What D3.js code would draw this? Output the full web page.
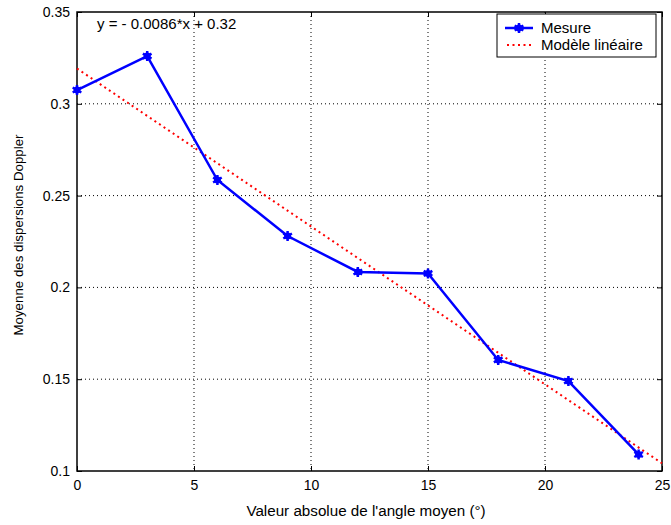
<!DOCTYPE html>
<html><head><meta charset="utf-8">
<script src="https://cdn.jsdelivr.net/npm/d3@7"></script>
<style>body{margin:0;background:#fff;} text{font-family:"Liberation Sans",Arial,sans-serif;}</style>
</head><body>
<svg id="c" width="671" height="525"></svg>
<script>
const angles = [0, 3, 6, 9, 12, 15, 18, 21, 24];
const dispersions = [0.3075, 0.326, 0.2585, 0.228, 0.2084, 0.2076, 0.1605, 0.149, 0.109];
const modelX = [0, 25];
const modelY = [0.3192, 0.1042];
const xTicks = [0, 5, 10, 15, 20, 25];
const yTicks = [0.1, 0.15, 0.2, 0.25, 0.3, 0.35];
const yTickLabels = ["0.1", "0.15", "0.2", "0.25", "0.3", "0.35"];
const seriesNames = ["Mesure", "Modèle linéaire"];
const equation = "y = - 0.0086*x + 0.32";

const svg = d3.select("#c");
const L = 77, R = 662, T = 12, B = 471;
const x = d3.scaleLinear().domain([0, 25]).range([L, R]);
const y = d3.scaleLinear().domain([0.1, 0.35]).range([B, T]);

// grid
const g = svg.append("g");
xTicks.slice(1, -1).forEach(t => g.append("line").attr("x1", x(t)).attr("x2", x(t)).attr("y1", T).attr("y2", B)
  .attr("stroke", "#000").attr("stroke-width", 1).attr("stroke-dasharray", "1,3"));
yTicks.slice(1, -1).forEach(t => g.append("line").attr("x1", L).attr("x2", R).attr("y1", y(t)).attr("y2", y(t))
  .attr("stroke", "#000").attr("stroke-width", 1).attr("stroke-dasharray", "1,3"));

// axes
const xa = svg.append("g").attr("transform", `translate(0,${B})`)
  .call(d3.axisBottom(x).tickValues(xTicks).tickSizeInner(-5).tickSizeOuter(0).tickPadding(9));
const ya = svg.append("g").attr("transform", `translate(${L},0)`)
  .call(d3.axisLeft(y).tickValues(yTicks).tickFormat((d, i) => yTickLabels[i]).tickSizeInner(-5).tickSizeOuter(0).tickPadding(7));
svg.append("g").attr("transform", `translate(0,${T})`)
  .call(d3.axisTop(x).tickValues(xTicks).tickSizeInner(-5).tickSizeOuter(0).tickFormat(""));
svg.append("g").attr("transform", `translate(${R},0)`)
  .call(d3.axisRight(y).tickValues(yTicks).tickSizeInner(-5).tickSizeOuter(0).tickFormat(""));
svg.selectAll(".domain").remove();
svg.selectAll(".tick line").attr("stroke", "#000");
[xa, ya].forEach(a => a.selectAll("text").attr("font-size", 14).attr("fill", "#000")
  .style("font-family", "'Liberation Sans',Arial,sans-serif"));
svg.append("rect").attr("x", L).attr("y", T).attr("width", R - L).attr("height", B - T)
  .attr("fill", "none").attr("stroke", "#000").attr("stroke-width", 1.5);

// model line
const mdata = modelX.map((d, i) => [d, modelY[i]]);
svg.append("path").datum(mdata).attr("d", d3.line().x(d => x(d[0])).y(d => y(d[1])))
  .attr("stroke", "#ff0000").attr("stroke-width", 2).attr("stroke-dasharray", "2,3.5").attr("fill", "none");

// measure line
const data = angles.map((d, i) => [d, dispersions[i]]);
svg.append("path").datum(data).attr("d", d3.line().x(d => x(d[0])).y(d => y(d[1])))
  .attr("stroke", "#0000ff").attr("stroke-width", 2.5).attr("fill", "none");
const star = d3.symbol().type(d3.symbolAsterisk).size(70)();
const star2 = d3.symbol().type(d3.symbolCircle).size(40)();
svg.selectAll(".mk").data(data).enter().append("g").attr("transform", d => `translate(${x(d[0])},${y(d[1])})`)
  .each(function() {
    d3.select(this).append("path").attr("d", star).attr("stroke", "#0000ff").attr("stroke-width", 2.5).attr("fill", "none");
    d3.select(this).append("path").attr("d", star2).attr("fill", "#0000ff");
  });

// equation
svg.append("text").attr("x", 97).attr("y", 29).attr("font-size", 15).text(equation);

// legend
svg.append("rect").attr("x", 497).attr("y", 14).attr("width", 159).attr("height", 43)
  .attr("fill", "#fff").attr("stroke", "#000").attr("stroke-width", 1);
svg.append("line").attr("x1", 505).attr("x2", 533).attr("y1", 28).attr("y2", 28).attr("stroke", "#0000ff").attr("stroke-width", 2.5);
const lg = svg.append("g").attr("transform", "translate(519,28)");
lg.append("path").attr("d", star).attr("stroke", "#0000ff").attr("stroke-width", 2.5).attr("fill", "none");
lg.append("path").attr("d", star2).attr("fill", "#0000ff");
svg.append("line").attr("x1", 507).attr("x2", 533).attr("y1", 45).attr("y2", 45).attr("stroke", "#ff0000").attr("stroke-width", 2).attr("stroke-dasharray", "2,3.5");
svg.append("text").attr("x", 541).attr("y", 33).attr("font-size", 15).text(seriesNames[0]);
svg.append("text").attr("x", 541).attr("y", 50).attr("font-size", 15).text(seriesNames[1]);

// axis labels
svg.append("text").attr("x", 366).attr("y", 516).attr("text-anchor", "middle").attr("font-size", 15.2)
  .text("Valeur absolue de l'angle moyen (°)");
svg.append("text").attr("transform", `translate(23,235) rotate(-90)`).attr("text-anchor", "middle").attr("font-size", 13.3)
  .text("Moyenne des dispersions Doppler");
</script>
</body></html>
